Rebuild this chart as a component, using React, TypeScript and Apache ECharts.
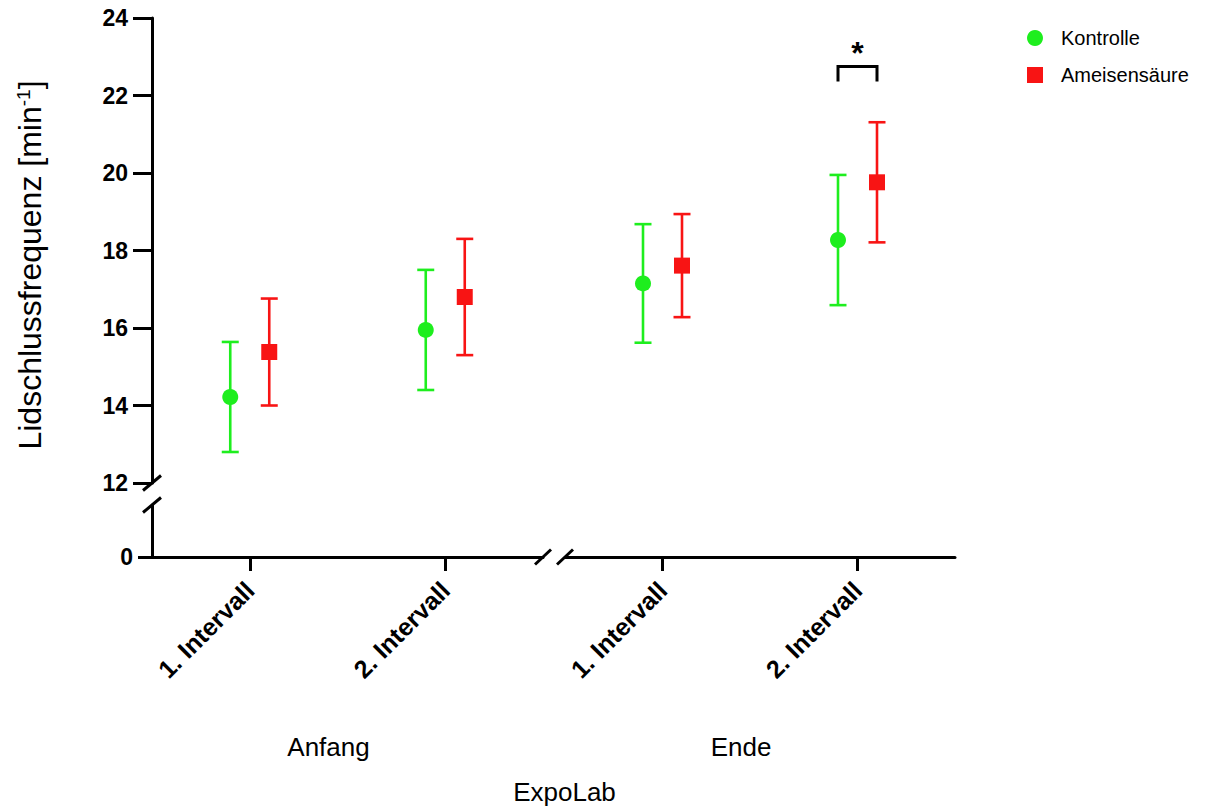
import { useEffect, useRef } from 'react';
import * as echarts from 'echarts';

// Categories
const intervals = ['1. Intervall', '2. Intervall'];
const phases = ['Anfang', 'Ende'];

// Means and standard deviations, ordered Anfang 1./2., Ende 1./2.
const kontrolleMean = [14.22, 15.95, 17.15, 18.27];
const kontrolleSD = [1.42, 1.55, 1.53, 1.68];
const ameisenMean = [15.38, 16.8, 17.61, 19.76];
const ameisenSD = [1.38, 1.5, 1.33, 1.55];

// Axis ranges (upper and lower segment of the broken y axis)
const upperRange = [12, 24];
const upperStep = 2;
const lowerRange = [0, 1];

// Significance bracket: phase index, interval index, bracket top and foot (y values)
const sigPhase = 1;
const sigInterval = 1;
const sigTop = 22.75;
const sigFoot = 22.36;

const GREEN = '#1eee1e';
const RED = '#f81414';
const FONT = '"Liberation Sans", Arial, Helvetica, sans-serif';

// Layout
const LEFT = 152;
const BREAK_L = 543;
const BREAK_R = 565;
const RIGHT = 955;
const TOP = 18;
const UPPER_BOTTOM = 483;
const LOWER_TOP = 505;
const BASE = 557;
const OFFSET = 19.5;
const CAP = 8.5;

function errorBars(name: string, means: number[], sds: number[], p: number, dx: number, color: string) {
  return {
    type: 'custom',
    name,
    xAxisIndex: p,
    yAxisIndex: p,
    z: 2,
    encode: { x: 0, y: [1, 2] },
    data: intervals.map((_, i) => {
      const k = p * 2 + i;
      return [i, means[k] - sds[k], means[k] + sds[k]];
    }),
    renderItem: (_params: any, api: any) => {
      const lo = api.coord([api.value(0), api.value(1)]);
      const hi = api.coord([api.value(0), api.value(2)]);
      const x = lo[0] + dx;
      const style = { stroke: color, lineWidth: 2.6 };
      return {
        type: 'group',
        children: [
          { type: 'line', shape: { x1: x, y1: lo[1], x2: x, y2: hi[1] }, style },
          { type: 'line', shape: { x1: x - CAP, y1: hi[1], x2: x + CAP, y2: hi[1] }, style },
          { type: 'line', shape: { x1: x - CAP, y1: lo[1], x2: x + CAP, y2: lo[1] }, style },
        ],
      };
    },
  };
}

function points(name: string, means: number[], p: number, dx: number, color: string, symbol: string, size: number) {
  return {
    type: 'scatter',
    name,
    xAxisIndex: p,
    yAxisIndex: p,
    z: 3,
    symbol,
    symbolSize: size,
    symbolOffset: [dx, 0],
    itemStyle: { color, opacity: 1 },
    data: intervals.map((_, i) => [i, means[p * 2 + i]]),
  };
}

function slash(cx: number, cy: number, hx: number, hy: number) {
  return {
    type: 'line',
    shape: { x1: cx - hx, y1: cy + hy, x2: cx + hx, y2: cy - hy },
    style: { stroke: '#000', lineWidth: 3 },
    z: 10,
  };
}

export default function App() {
  const ref = useRef<HTMLDivElement>(null);

  useEffect(() => {
    document.body.style.margin = '0';
    const chart = echarts.init(ref.current!, undefined, { renderer: 'svg' });

    const axisLineStyle = { color: '#000', width: 3 };
    const hiddenX = (g: number) => ({
      type: 'category', gridIndex: g, data: intervals, show: false, boundaryGap: true,
    });
    const shownX = (g: number) => ({
      type: 'category',
      gridIndex: g,
      data: intervals,
      boundaryGap: true,
      axisLine: { show: true, lineStyle: axisLineStyle },
      axisTick: { show: true, length: 14, alignWithLabel: true, lineStyle: { width: 3, color: '#000' } },
      axisLabel: {
        rotate: 45, interval: 0, margin: 29, color: '#000',
        fontSize: 25, fontWeight: 'bold', fontFamily: FONT,
      },
    });

    const sigSeries = {
      type: 'custom',
      name: 'Signifikanz',
      xAxisIndex: sigPhase,
      yAxisIndex: sigPhase,
      z: 4,
      data: [[sigInterval, sigTop, sigFoot]],
      renderItem: (_params: any, api: any) => {
        const top = api.coord([api.value(0), api.value(1)]);
        const foot = api.coord([api.value(0), api.value(2)]);
        const x = top[0];
        return {
          type: 'group',
          children: [
            {
              type: 'polyline',
              shape: {
                points: [
                  [x - OFFSET, foot[1]], [x - OFFSET, top[1]],
                  [x + OFFSET, top[1]], [x + OFFSET, foot[1]],
                ],
              },
              style: { stroke: '#000', lineWidth: 3, fill: 'none' },
            },
            {
              type: 'text',
              x: x,
              y: top[1] - 13,
              style: {
                text: '*', fill: '#000', fontSize: 32, fontWeight: 'bold', fontFamily: FONT,
                align: 'center', verticalAlign: 'middle',
              },
            },
          ],
        };
      },
    };

    const groupCenter = (p: number) =>
      p === 0 ? (LEFT + BREAK_L) / 2 : (BREAK_R + RIGHT) / 2;

    chart.setOption({
      animation: false,
      backgroundColor: '#fff',
      legend: {
        orient: 'vertical',
        left: 1022,
        top: 23,
        itemWidth: 16,
        itemHeight: 16,
        itemGap: 17,
        textStyle: { fontSize: 20, color: '#000', fontFamily: FONT, padding: [0, 0, 0, 13] },
        data: [
          { name: 'Kontrolle', icon: 'circle' },
          { name: 'Ameisensäure', icon: 'rect' },
        ],
      },
      grid: [
        { left: LEFT, top: TOP, width: BREAK_L - LEFT, height: UPPER_BOTTOM - TOP },
        { left: BREAK_R, top: TOP, width: RIGHT - BREAK_R, height: UPPER_BOTTOM - TOP },
        { left: LEFT, top: LOWER_TOP, width: BREAK_L - LEFT, height: BASE - LOWER_TOP },
        { left: BREAK_R, top: LOWER_TOP, width: RIGHT - BREAK_R, height: BASE - LOWER_TOP },
      ],
      xAxis: [hiddenX(0), hiddenX(1), shownX(2), shownX(3)],
      yAxis: [
        {
          type: 'value', gridIndex: 0, min: upperRange[0], max: upperRange[1], interval: upperStep,
          axisLine: { show: true, lineStyle: axisLineStyle },
          axisTick: { show: true, length: 19, lineStyle: { width: 3, color: '#000' } },
          axisLabel: { margin: 24, color: '#000', fontSize: 23, fontWeight: 'bold', fontFamily: FONT },
          splitLine: { show: false },
        },
        {
          type: 'value', gridIndex: 1, min: upperRange[0], max: upperRange[1], interval: upperStep,
          show: false, splitLine: { show: false },
        },
        {
          type: 'value', gridIndex: 2, min: lowerRange[0], max: lowerRange[1], interval: 1,
          axisLine: { show: true, lineStyle: axisLineStyle },
          axisTick: { show: true, length: 14, customValues: [0], lineStyle: { width: 3, color: '#000' } },
          axisLabel: {
            margin: 19, color: '#000', fontSize: 23, fontWeight: 'bold', fontFamily: FONT,
            customValues: [0],
          },
          splitLine: { show: false },
        },
        {
          type: 'value', gridIndex: 3, min: lowerRange[0], max: lowerRange[1],
          show: false, splitLine: { show: false },
        },
      ],
      series: [
        errorBars('Kontrolle SD', kontrolleMean, kontrolleSD, 0, -OFFSET, GREEN),
        errorBars('Kontrolle SD', kontrolleMean, kontrolleSD, 1, -OFFSET, GREEN),
        errorBars('Ameisensäure SD', ameisenMean, ameisenSD, 0, OFFSET, RED),
        errorBars('Ameisensäure SD', ameisenMean, ameisenSD, 1, OFFSET, RED),
        points('Kontrolle', kontrolleMean, 0, -OFFSET, GREEN, 'circle', 16),
        points('Kontrolle', kontrolleMean, 1, -OFFSET, GREEN, 'circle', 16),
        points('Ameisensäure', ameisenMean, 0, OFFSET, RED, 'rect', 16),
        points('Ameisensäure', ameisenMean, 1, OFFSET, RED, 'rect', 16),
        sigSeries,
      ],
      graphic: [
        // axis break marks
        slash(LEFT, UPPER_BOTTOM, 9, 7.5),
        slash(LEFT, LOWER_TOP, 9, 7.5),
        slash(BREAK_L, BASE, 8, 7.5),
        slash(BREAK_R, BASE, 8, 7.5),
        {
          type: 'text',
          x: 30,
          y: 265,
          rotation: Math.PI / 2,
          style: {
            text: 'Lidschlussfrequenz [min{sup|-1}]',
            fontSize: 32,
            fontFamily: FONT,
            fill: '#000',
            align: 'center',
            verticalAlign: 'middle',
            rich: { sup: { fontSize: 19, verticalAlign: 'top', fontFamily: FONT, fill: '#000' } },
          },
        },
        ...phases.map((ph, p) => ({
          type: 'text',
          x: groupCenter(p) - 19,
          y: 747,
          style: {
            text: ph, fontSize: 26, fontFamily: FONT, fill: '#000',
            align: 'center', verticalAlign: 'middle',
          },
        })),
        {
          type: 'text',
          x: (LEFT + RIGHT) / 2 + 11,
          y: 792,
          style: {
            text: 'ExpoLab', fontSize: 26, fontFamily: FONT, fill: '#000',
            align: 'center', verticalAlign: 'middle',
          },
        },
      ],
    });

    return () => chart.dispose();
  }, []);

  return <div ref={ref} style={{ width: 1206, height: 808 }} />;
}
